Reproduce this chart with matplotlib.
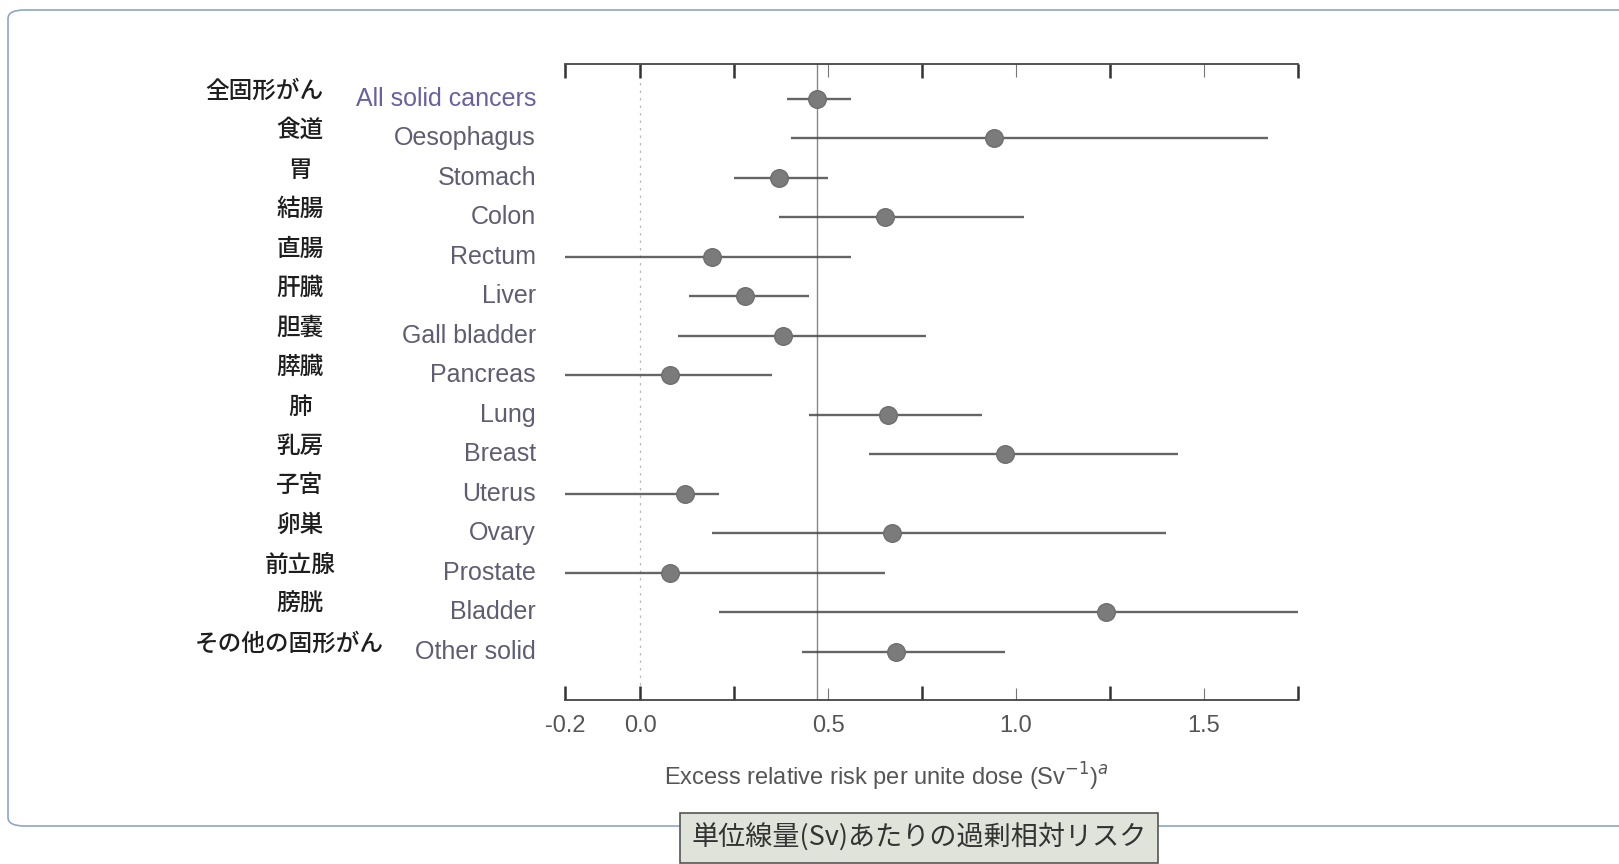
import numpy as np
import matplotlib
matplotlib.use("Agg")
import matplotlib.pyplot as plt
import matplotlib.transforms as mtransforms
from matplotlib.patches import FancyBboxPatch

plt.rcParams['font.family'] = ['Liberation Sans', 'Noto Sans CJK JP', 'DejaVu Sans']

sites_ja = ["全固形がん", "食道", "胃", "結腸", "直腸", "肝臓", "胆嚢", "膵臓",
            "肺", "乳房", "子宮", "卵巣", "前立腺", "膀胱", "その他の固形がん"]
sites_en = ["All solid cancers", "Oesophagus", "Stomach", "Colon", "Rectum", "Liver",
            "Gall bladder", "Pancreas", "Lung", "Breast", "Uterus", "Ovary",
            "Prostate", "Bladder", "Other solid"]

# excess relative risk per Sv with lower / upper bounds
err = [0.47, 0.94, 0.37, 0.65, 0.19, 0.28, 0.38, 0.08, 0.66, 0.97, 0.12, 0.67, 0.08, 1.24, 0.68]
err_lo = [0.39, 0.40, 0.25, 0.37, -0.20, 0.13, 0.10, -0.20, 0.45, 0.61, -0.20, 0.19, -0.20, 0.21, 0.43]
err_hi = [0.56, 1.67, 0.50, 1.02, 0.56, 0.45, 0.76, 0.35, 0.91, 1.43, 0.21, 1.40, 0.65, 1.75, 0.97]

ref_value = 0.47
major_ticks = [-0.2, 0.0, 0.25, 0.75, 1.25, 1.75]
major_labels = ["-0.2", "0.0", "", "", "", ""]
minor_ticks = [0.5, 1.0, 1.5]
minor_labels = ["0.5", "1.0", "1.5"]

W, H = 1619, 864
fig = plt.figure(figsize=(W / 100, H / 100), dpi=100)
fig.patch.set_facecolor("white")

# outer frame; the caption box sits over its bottom edge
frame = FancyBboxPatch((8 / W, 38 / H), 1.05, 1 - 48 / H,
                       boxstyle="round,pad=0,rounding_size=0.01",
                       transform=fig.transFigure, fill=False,
                       edgecolor="#8fa6c6", linewidth=1.2, zorder=0)
fig.patches.append(frame)

ax = fig.add_axes([565 / W, 1 - 700 / H, (1298 - 565) / W, (700 - 64) / H])
ax.set_facecolor("none")

y = np.arange(len(err))
ax.axvline(0.0, color="#bbbbbb", lw=0.9, ls=(0, (2, 4)), zorder=1)
ax.axvline(ref_value, color="#888888", lw=1.0, zorder=1)

ax.hlines(y, err_lo, err_hi, color="#4a4a4a", lw=1.7, alpha=0.85, zorder=2)
ax.scatter(err, y, s=160, color="#7b7b7b", edgecolor="#6e6e6e", zorder=3)

ax.set_xlim(-0.2, 1.75)
ax.set_ylim(15.22, -0.886)
ax.set_yticks([])
for s in ["left", "right"]:
    ax.spines[s].set_visible(False)
for s in ["top", "bottom"]:
    ax.spines[s].set_color("#444444")
    ax.spines[s].set_linewidth(1.3)

ax.set_xticks(major_ticks)
ax.set_xticklabels(major_labels)
ax.set_xticks(minor_ticks, minor=True)
ax.set_xticklabels(minor_labels, minor=True)
ax.tick_params(axis="x", which="major", direction="in", length=10, width=1.8,
               color="#333333", top=True, bottom=True, pad=11,
               labelsize=17, labelcolor="#555555")
ax.tick_params(axis="x", which="minor", direction="in", length=9, width=0.8,
               color="#777777", top=True, bottom=True, pad=11,
               labelsize=17, labelcolor="#555555")

# row labels: Japanese column and English column
row_tf = mtransforms.blended_transform_factory(fig.transFigure, ax.transData)
renderer = fig.canvas.get_renderer()
en_x = 536 / W
ja_x = 300 / W
gap = 32
for i in y:
    en_color = "#6a5fa0" if i == 0 else "#5f5d72"
    t_en = ax.text(en_x, i, sites_en[i], transform=row_tf,
                   ha="right", va="center", fontsize=18, color=en_color)
    t_ja = ax.text(ja_x, i - 0.2, sites_ja[i], transform=row_tf,
                   ha="center", va="center", fontsize=17, color="#1e1e1e",
                   fontweight="medium", family=["Noto Sans CJK JP", "DejaVu Sans"])
    # keep long Japanese names clear of the English column
    en_left = t_en.get_window_extent(renderer).x0
    ja_box = t_ja.get_window_extent(renderer)
    if ja_box.x1 > en_left - gap:
        t_ja.set_x(ja_x - (ja_box.x1 - en_left + gap) / W)

fig.text(886 / W, 1 - 777 / H, r"Excess relative risk per unite dose (Sv$^{-1}$)$^{a}$",
         ha="center", va="center", fontsize=17, color="#555555")

fig.text(919 / W, 1 - 838 / H, "単位線量(Sv)あたりの過剰相対リスク",
         ha="center", va="center", fontsize=19.5, color="#333333",
         family=["Noto Sans CJK JP", "DejaVu Sans"],
         bbox=dict(boxstyle="square,pad=0.4", facecolor="#dfe3da",
                   edgecolor="#555555", linewidth=1.2))

fig.savefig("out.png", dpi=100)
